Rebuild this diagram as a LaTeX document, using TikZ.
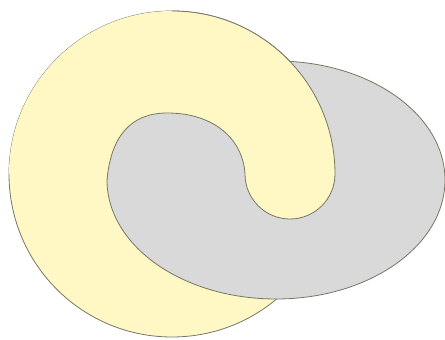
\documentclass[tikz,border=0pt]{standalone}
\usepackage{tikz}
\definecolor{ringyellow}{RGB}{255,248,196}
\definecolor{eggray}{RGB}{217,217,217}
\definecolor{rim}{RGB}{118,118,100}

\begin{document}
\begin{tikzpicture}[
        x=1pt, y=1pt,
        edge/.style={draw=rim, line width=0.8pt},
        ring/.style={fill=ringyellow},
        egg/.style={fill=eggray}
    ]
        \useasboundingbox (0,0) rectangle (445,340);

        % big yellow disc
        \coordinate (ringc) at (172,166);
        \filldraw[ring, edge] (ringc) circle[radius=163];

        % grey ellipse lying over it
        \coordinate (eggc) at (276,160);
        \filldraw[egg, edge] (eggc) ellipse[x radius=169, y radius=119];

        % the hook of the ring, back on top
        \coordinate (hookl) at (107,160);
        \coordinate (hookr) at (245,166);
        \fill[ring] (hookl) .. controls (111,205) and (132,227) .. (167,227)
            .. controls (215,227) and (243,200) .. (hookr)
            arc[start angle=180, end angle=360, radius=45]
            arc[start angle=0, end angle=180, radius=163] -- cycle;
        \draw[edge] (hookl) .. controls (111,205) and (132,227) .. (167,227)
            .. controls (215,227) and (243,200) .. (hookr)
            arc[start angle=180, end angle=360, radius=45]
            arc[start angle=0, end angle=90, radius=163];
    \end{tikzpicture}
\end{document}
